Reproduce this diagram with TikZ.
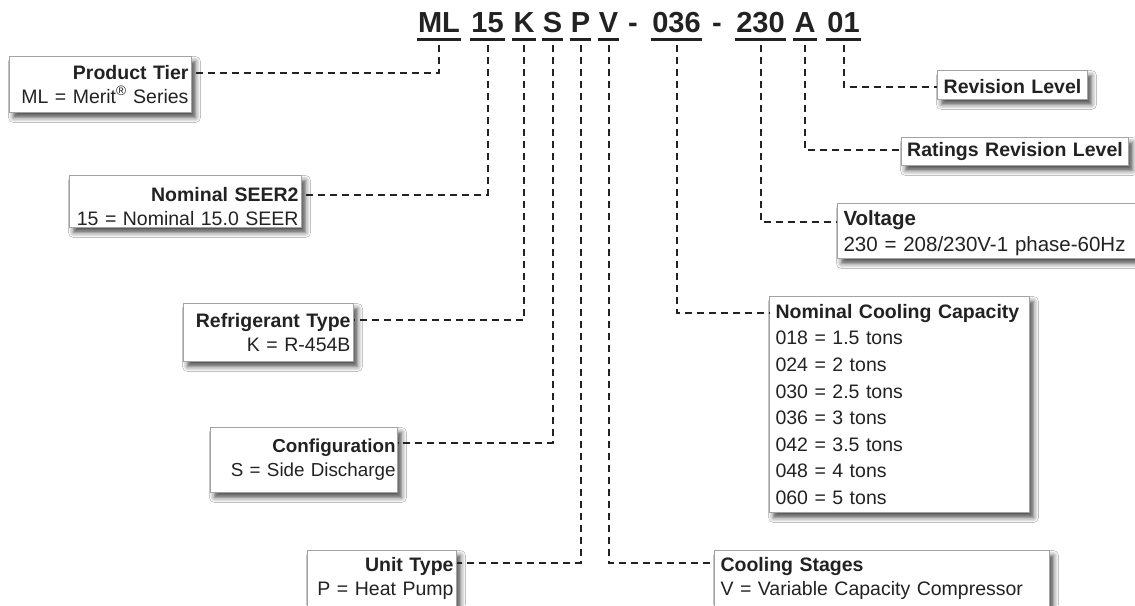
\documentclass[tikz,border=0pt]{standalone}
\usepackage{fontspec}
\setmainfont{Liberation Sans}
\usetikzlibrary{shadows.blur,calc}
\definecolor{ink}{HTML}{222222}
\definecolor{boxline}{HTML}{A3A3A3}
\begin{document}
\begin{tikzpicture}[x=1pt,y=-1pt,
  code/.style={font=\fontsize{29}{29}\selectfont\bfseries, text=ink, inner xsep=1pt, inner ysep=0pt, text height=21pt, text depth=7pt, anchor=base},
  uline/.style={draw=ink, line width=2.8pt},
  conn/.style={draw=ink, line width=2pt, dash pattern=on 7pt off 5pt},
  infobox/.style={draw=boxline, line width=1pt, fill=white, text=ink, inner xsep=3pt, inner ysep=0pt, anchor=north west,
    font=\fontsize{19.5}{24}\selectfont,
    blur shadow={shadow xshift=4pt, shadow yshift=-5pt, shadow blur radius=5pt, shadow opacity=70}},
]
\useasboundingbox (0,0) rectangle (1135,605);
\fill[white] (0,0) rectangle (1135,605);

% header code
\node[code] (hML)  at (439,32)   {ML};
\node[code] (h15)  at (487.5,32) {15};
\node[code] (hK)   at (524,32)   {K};
\node[code] (hS)   at (552.5,32) {S};
\node[code] (hP)   at (580.5,32) {P};
\node[code] (hV)   at (608.5,32) {V};
\node[code] (hd1)  at (633,32)   {-};
\node[code] (h036) at (676.5,32) {036};
\node[code] (hd2)  at (717,32)   {-};
\node[code] (h230) at (760.5,32) {230};
\node[code] (hA)   at (805,32)   {A};
\node[code] (h01)  at (843.5,32) {01};
\foreach \n in {hML,h15,hK,hS,hP,hV,h036,h230,hA,h01}
  \draw[uline] (\n.south west) -- (\n.south east);

% boxes
\node[infobox, minimum height=56pt, text width=176pt, align=right] (ptier) at (9,56)
  {\mbox{\textbf{Product Tier}}\\\mbox{ML = Merit\textsuperscript{®} Series}};
\node[infobox, minimum height=52pt, text width=226pt, align=right] (seer) at (69,175)
  {\mbox{\rule{0pt}{25pt}\textbf{Nominal SEER2}}\\\mbox{15 = Nominal 15.0 SEER}};
\node[infobox, minimum height=58pt, text width=164pt, align=right] (refr) at (183,303)
  {\mbox{\textbf{Refrigerant Type}}\\\mbox{K = R-454B}};
\node[infobox, inner xsep=2pt, minimum height=65pt, text width=183pt, align=right, font=\fontsize{18.8}{24}\selectfont] (conf) at (210,427)
  {\mbox{\textbf{Configuration}}\\\mbox{S = Side Discharge}};
\node[infobox, minimum height=56pt, text width=143pt, align=right] (unit) at (307,550)
  {\mbox{\textbf{Unit Type}}\\\mbox{P = Heat Pump}};
\node[infobox, inner xsep=6pt, minimum height=56pt, text width=323pt, align=left] (stage) at (714,550)
  {\mbox{\textbf{Cooling Stages}}\\\mbox{V = Variable Capacity Compressor}};
\node[infobox, inner xsep=6pt, minimum height=216pt, text width=248pt, align=left, font=\fontsize{19.5}{26.6}\selectfont] (cap) at (769,296)
  {\mbox{\textbf{Nominal Cooling Capacity}}\\018 = 1.5 tons\\024 = 2 tons\\030 = 2.5 tons\\036 = 3 tons\\042 = 3.5 tons\\048 = 4 tons\\060 = 5 tons};
\node[infobox, inner xsep=6pt, minimum height=55pt, text width=298pt, align=left, font=\fontsize{20.5}{26}\selectfont] (volt) at (837,203)
  {\mbox{\rule{0pt}{20pt}\textbf{Voltage}}\\\mbox{230 = 208/230V-1 phase-60Hz}};
\node[infobox, minimum height=28pt, text width=221pt, align=center] (rrev) at (901,137)
  {\mbox{\textbf{Ratings Revision Level}}};
\node[infobox, minimum height=29pt, text width=144pt, align=center] (rev) at (937,70)
  {\mbox{\rule{0pt}{17pt}\textbf{Revision Level}}};

% connectors
\draw[conn] ([yshift=-6pt]hML.south)  |- ([yshift=-17pt]ptier.north east);
\draw[conn] ([yshift=-6pt]h15.south)  |- ([yshift=-20pt]seer.north east);
\draw[conn] ([yshift=-6pt]hK.south)   |- ([yshift=-17pt]refr.north east);
\draw[conn] ([yshift=-6pt]hS.south)   |- ([yshift=-16pt]conf.north east);
\draw[conn] ([yshift=-6pt]hP.south)   |- ([yshift=-13pt]unit.north east);
\draw[conn] ([yshift=-6pt]hV.south)   |- ([yshift=-13pt]stage.north west);
\draw[conn] ([yshift=-6pt]h036.south) |- ([yshift=-17pt]cap.north west);
\draw[conn] ([yshift=-6pt]h230.south) |- ([yshift=-19pt]volt.north west);
\draw[conn] ([yshift=-6pt]hA.south)   |- ([yshift=-13pt]rrev.north west);
\draw[conn] ([yshift=-6pt]h01.south)  |- ([yshift=-17pt]rev.north west);
\end{tikzpicture}
\end{document}
